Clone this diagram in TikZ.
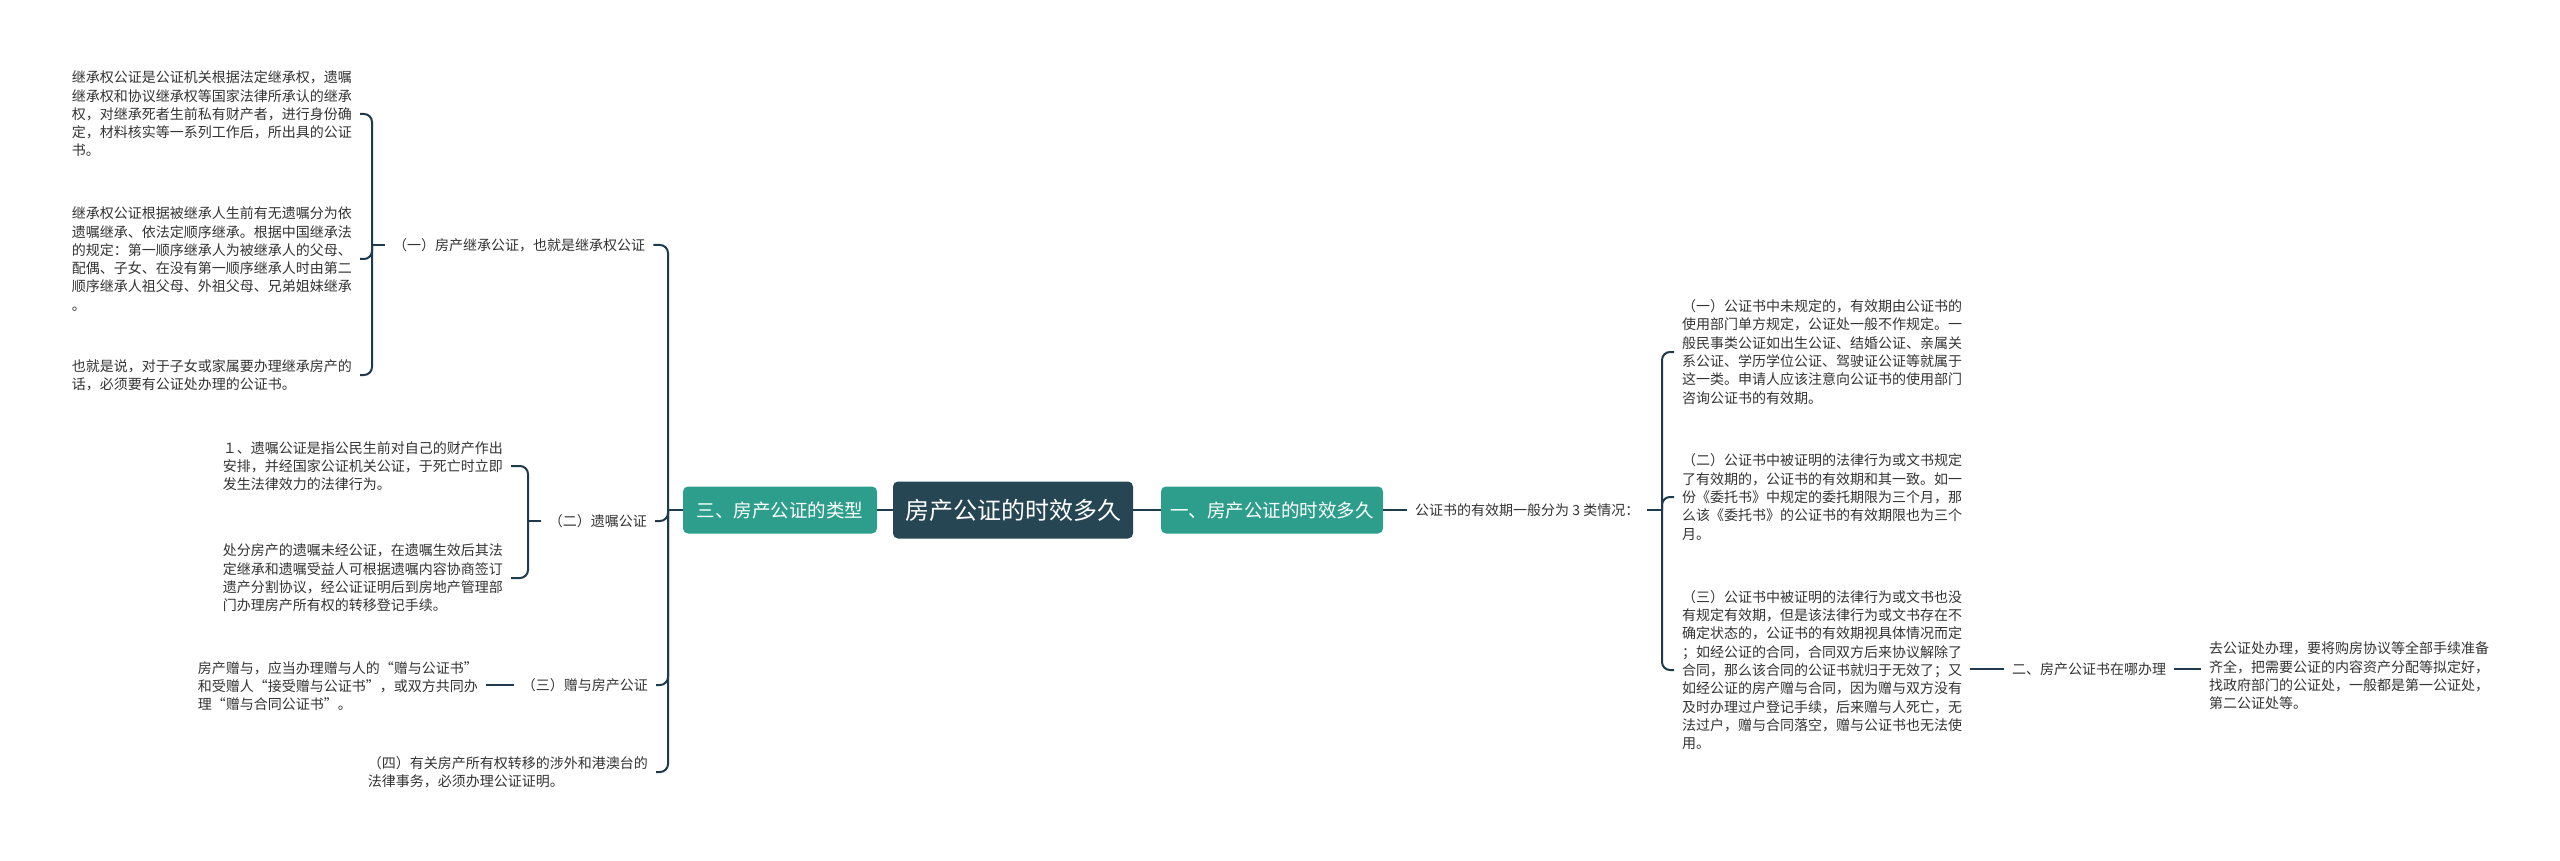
\documentclass[tikz,border=0pt]{standalone}
\usepackage{fontspec}
\newfontfamily\cjk{Noto Sans CJK SC}
\usepackage{tikz}
\usetikzlibrary{positioning}
\definecolor{rootfill}{HTML}{264653}
\definecolor{branchfill}{HTML}{2E9E8C}
\definecolor{linkcol}{HTML}{1E3A4C}
\definecolor{txtcol}{HTML}{333333}

\begin{document}
\begin{tikzpicture}[
      x=1pt, y=-1pt,
      rootbox/.style={
          fill=rootfill,
          rounded corners=5pt,
          text=white,
          minimum height=57pt,
          inner xsep=12pt,
          font=\cjk\fontsize{24}{28}\selectfont
      },
      mainbox/.style={
          fill=branchfill,
          rounded corners=5pt,
          text=white,
          minimum height=47pt,
          inner xsep=8pt,
          font=\cjk\fontsize{18.5}{22}\selectfont
      },
      topic/.style={font=\cjk\fontsize{14}{18.3}\selectfont, text=txtcol,
                    inner xsep=8pt, inner ysep=2pt},
      leaf/.style={topic, align=left},
      link/.style={draw=linkcol, line width=2pt, rounded corners=8pt}
  ]
  \useasboundingbox (0,0) rectangle (2560,861);

  % ══════════════════════════════
  % CENTRE
  % ══════════════════════════════
  \node[rootbox] (root) at (1013,510) {房产公证的时效多久};

  \node[mainbox, minimum width=222pt] (valid) at (1272,510)
      {一、房产公证的时效多久};

  \node[mainbox, minimum width=194pt] (types) at (780,510)
      {三、房产公证的类型};

  % ══════════════════════════════
  % DROITE : une. durée
  % ══════════════════════════════
  \node[topic, anchor=west] (period) at (1407,510)
      {公证书的有效期一般分为 3 类情况：};
  \coordinate (rhub) at (1662,510);

  \node[leaf, anchor=west] (v1) at (1674,352)
      {（一）公证书中未规定的，有效期由公证书的\\使用部门单方规定，公证处一般不作规定。一\\般民事类公证如出生公证、结婚公证、亲属关\\系公证、学历学位公证、驾驶证公证等就属于\\这一类。申请人应该注意向公证书的使用部门\\咨询公证书的有效期。};

  \node[leaf, anchor=west] (v2) at (1674,497)
      {（二）公证书中被证明的法律行为或文书规定\\了有效期的，公证书的有效期和其一致。如一\\份《委托书》中规定的委托期限为三个月，那\\么该《委托书》的公证书的有效期限也为三个\\月。};

  \node[leaf, anchor=west] (v3) at (1674,670)
      {（三）公证书中被证明的法律行为或文书也没\\有规定有效期，但是该法律行为或文书存在不\\确定状态的，公证书的有效期视具体情况而定\\；如经公证的合同，合同双方后来协议解除了\\合同，那么该合同的公证书就归于无效了；又\\如经公证的房产赠与合同，因为赠与双方没有\\及时办理过户登记手续，后来赠与人死亡，无\\法过户，赠与合同落空，赠与公证书也无法使\\用。};

  \node[topic, anchor=west] (where) at (2004,669)
      {二、房产公证书在哪办理};

  \node[leaf, anchor=west] (office) at (2201,676)
      {去公证处办理，要将购房协议等全部手续准备\\齐全，把需要公证的内容资产分配等拟定好，\\找政府部门的公证处，一般都是第一公证处，\\第二公证处等。};

  % ══════════════════════════════
  % GAUCHE : types
  % ══════════════════════════════
  \coordinate (lhub) at (668,510);

  \node[topic, anchor=west] (inherit) at (385,245)
      {（一）房产继承公证，也就是继承权公证};
  \coordinate (ihub) at (372,245);

  \node[leaf, anchor=east] (i1) at (360,114)
      {继承权公证是公证机关根据法定继承权，遗嘱\\继承权和协议继承权等国家法律所承认的继承\\权，对继承死者生前私有财产者，进行身份确\\定，材料核实等一系列工作后，所出具的公证\\书。};

  \node[leaf, anchor=east] (i2) at (360,259)
      {继承权公证根据被继承人生前有无遗嘱分为依\\遗嘱继承、依法定顺序继承。根据中国继承法\\的规定：第一顺序继承人为被继承人的父母、\\配偶、子女、在没有第一顺序继承人时由第二\\顺序继承人祖父母、外祖父母、兄弟姐妹继承\\。};

  \node[leaf, anchor=east] (i3) at (360,375)
      {也就是说，对于子女或家属要办理继承房产的\\话，必须要有公证处办理的公证书。};

  \node[topic, anchor=east] (will) at (655,521) {（二）遗嘱公证};
  \coordinate (whub) at (528,521);

  \node[leaf, anchor=east] (w1) at (511,466)
      {１、遗嘱公证是指公民生前对自己的财产作出\\安排，并经国家公证机关公证，于死亡时立即\\发生法律效力的法律行为。};

  \node[leaf, anchor=east] (w2) at (511,578)
      {处分房产的遗嘱未经公证，在遗嘱生效后其法\\定继承和遗嘱受益人可根据遗嘱内容协商签订\\遗产分割协议，经公证证明后到房地产管理部\\门办理房产所有权的转移登记手续。};

  \node[topic, anchor=east] (gift) at (656,685) {（三）赠与房产公证};

  \node[leaf, anchor=east] (g1) at (486,686)
      {房产赠与，应当办理赠与人的“赠与公证书”\\和受赠人“接受赠与公证书”，或双方共同办\\理“赠与合同公证书”。};

  \node[leaf, anchor=east] (foreign) at (656,772)
      {（四）有关房产所有权转移的涉外和港澳台的\\法律事务，必须办理公证证明。};

  % ══════════════════════════════
  % LIENS
  % ══════════════════════════════
  \draw[link] (types) -- (root);
  \draw[link] (root) -- (valid);
  \draw[link] (valid) -- (period);
  \draw[link] (period) -- (rhub);
  \foreach \c in {v1,v2,v3}
      \draw[link] (rhub) |- (\c.west);
  \draw[link] (where.west) -- (where.west -| v3.east);
  \draw[link] (where.east) -- (where.east -| office.west);

  \draw[link] (types) -- (lhub);
  \foreach \c in {inherit,will,gift,foreign}
      \draw[link] (lhub) |- (\c.east);
  \draw[link] (inherit) -- (ihub);
  \foreach \c in {i1,i2,i3}
      \draw[link] (ihub) |- (\c.east);
  \draw[link] (will) -- (whub);
  \foreach \c in {w1,w2}
      \draw[link] (whub) |- (\c.east);
  \draw[link] (gift.west) -- (gift.west -| g1.east);

  \end{tikzpicture}
\end{document}
